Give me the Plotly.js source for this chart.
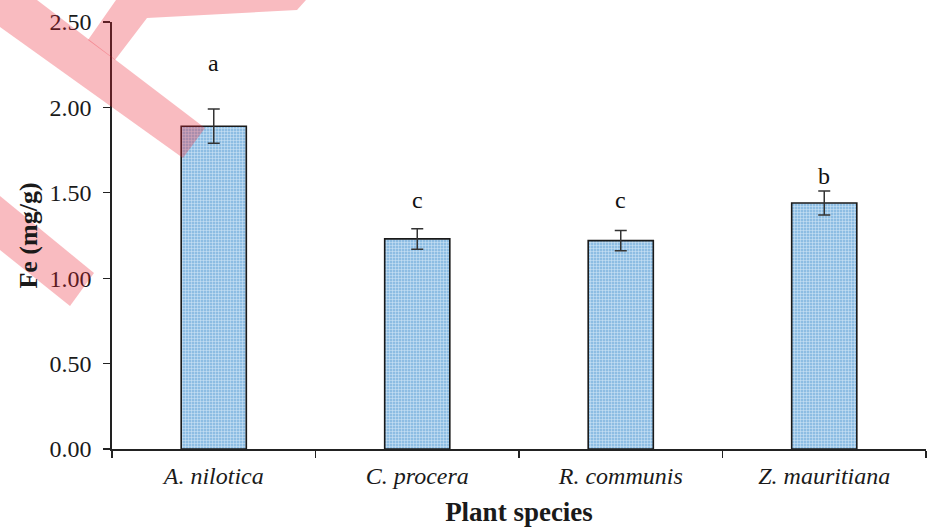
<!DOCTYPE html>
<html>
<head>
<meta charset="utf-8">
<script src="https://cdn.plot.ly/plotly-3.0.1.min.js"></script>
<style>html,body{margin:0;padding:0;background:#fff;}#chart{width:928px;height:527px;}</style>
</head>
<body>
<div id="chart"></div>
<script>
const species = ["A. nilotica", "C. procera", "R. communis", "Z. mauritiana"];
const feValues = [1.89, 1.23, 1.22, 1.44];
const feErrors = [0.10, 0.06, 0.06, 0.07];
const sigLetters = ["a", "c", "c", "b"];
const sigLetterY = [2.26, 1.46, 1.455, 1.60];
const yTickVals = [0, 0.5, 1.0, 1.5, 2.0, 2.5];
const yTickText = ["0.00", "0.50", "1.00", "1.50", "2.00", "2.50"];

const SERIF = "'Liberation Serif', 'Times New Roman', Times, serif";
const W = 928, H = 527;
const M = {l: 112, r: 2, t: 22, b: 78};
const PW = W - M.l - M.r, PH = H - M.t - M.b;
function px(x, y) { return [(x - M.l) / PW, (H - M.b - y) / PH]; }
function pathFrom(points) {
  return points.map((p, i) => { const q = px(p[0], p[1]); return (i ? "L" : "M") + q[0].toFixed(4) + "," + q[1].toFixed(4); }).join(" ") + " Z";
}
const wm = "rgba(235,30,45,0.30)";
const watermark = [
  [[0, 0], [37, 0], [205, 128], [183, 158], [0, 27]],
  [[88, 40], [116, 0], [306, 0], [297, 10], [147, 18], [115, 60]],
  [[0, 196], [94, 273], [70, 306], [0, 250]]
].map(pts => ({type: "path", xref: "paper", yref: "paper", path: pathFrom(pts), fillcolor: wm, line: {width: 0}, layer: "above"}));

const trace = {
  type: "bar",
  x: species,
  y: feValues,
  width: 0.32,
  marker: {
    color: "#9cc6e7",
    line: {color: "#1a1a1a", width: 1.6},
    pattern: {shape: "+", size: 3, solidity: 0.3, fgcolor: "#d6e8f6", bgcolor: "#8dbde3", fillmode: "replace"}
  },
  error_y: {type: "data", array: feErrors, visible: true, color: "#333333", thickness: 1.5, width: 6},
  hoverinfo: "skip"
};

const annotations = species.map((s, i) => ({
  x: s, y: sigLetterY[i], xref: "x", yref: "y", text: sigLetters[i], showarrow: false,
  font: {family: SERIF, size: 24, color: "#111"}, yanchor: "middle"
}));

const layout = {
  width: W, height: H,
  margin: M,
  paper_bgcolor: "#ffffff", plot_bgcolor: "#ffffff",
  showlegend: false,
  font: {family: SERIF, color: "#1a1a1a"},
  xaxis: {
    type: "category",
    range: [-0.5, 3.5],
    showline: true, linecolor: "#222", linewidth: 1.6,
    ticks: "outside", tickson: "boundaries", ticklen: 7, tickcolor: "#222", tickwidth: 1.3,
    showgrid: false, zeroline: false,
    tickfont: {family: SERIF, size: 24, style: "italic", color: "#1a1a1a"},
    ticklabelstandoff: 5,
    title: {text: "<b>Plant species</b>", font: {family: SERIF, size: 27, color: "#1a1a1a"}, standoff: 15}
  },
  yaxis: {
    range: [0, 2.5],
    tickvals: yTickVals, ticktext: yTickText,
    showline: true, linecolor: "#222", linewidth: 1.6,
    ticks: "outside", ticklen: 7, tickcolor: "#222", tickwidth: 1.3,
    showgrid: false, zeroline: false,
    tickfont: {family: SERIF, size: 24, color: "#1a1a1a"},
    ticklabelstandoff: 7,
    title: {text: "<b>Fe (mg/g)</b>", font: {family: SERIF, size: 26, color: "#1a1a1a"}, standoff: 4}
  },
  annotations: annotations,
  shapes: watermark
};

Plotly.newPlot("chart", [trace], layout, {displayModeBar: false, staticPlot: true});
</script>
</body>
</html>
